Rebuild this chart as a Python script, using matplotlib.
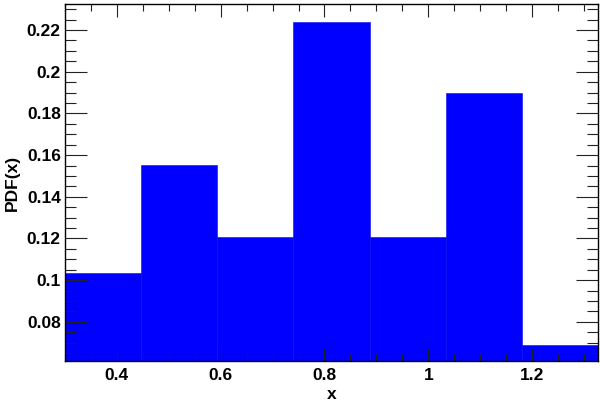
import numpy as np
import matplotlib
matplotlib.use('Agg')
import matplotlib.pyplot as plt
from matplotlib.ticker import MultipleLocator

# histogram: 7 equal bins between 0.3 and 1.327
bin_edges = np.linspace(0.3, 1.327, 8)
pdf_values = [0.1034, 0.1552, 0.1207, 0.2241, 0.1207, 0.1897, 0.0690]

plt.rcParams['font.family'] = ['Liberation Sans', 'DejaVu Sans']
plt.rcParams['font.weight'] = 'bold'

fig = plt.figure(figsize=(6, 4.04), dpi=100)
ax = fig.add_axes([65/600, 1 - 361/404, (598-65)/600, (361-4)/404])

ax.hist(bin_edges[:-1], bins=bin_edges, weights=pdf_values,
        color='#0000ff', edgecolor='#0a0af0', linewidth=0.4)

ax.set_xlim(0.3, 1.327)
ax.set_ylim(0.0612, 0.2325)

ax.xaxis.set_major_locator(MultipleLocator(0.2))
ax.xaxis.set_minor_locator(MultipleLocator(0.05))
ax.yaxis.set_major_locator(MultipleLocator(0.02))
ax.yaxis.set_minor_locator(MultipleLocator(0.005))
ax.xaxis.set_major_formatter(plt.FuncFormatter(lambda v, p: ('%g' % round(v, 3))))
ax.yaxis.set_major_formatter(plt.FuncFormatter(lambda v, p: ('%g' % round(v, 3))))

ax.tick_params(which='both', direction='in', top=True, right=True,
               labelsize=12.5, width=0.8, color='#222222')
ax.tick_params(axis='x', which='major', length=9, pad=5)
ax.tick_params(axis='x', which='minor', length=5)
ax.tick_params(axis='y', which='major', length=16, pad=3)
ax.tick_params(axis='y', which='minor', length=8)
for lab in ax.get_xticklabels() + ax.get_yticklabels():
    lab.set_fontweight('bold')

for s in ax.spines.values():
    s.set_linewidth(1.0)

ax.set_xlabel('x', fontsize=12.5, fontweight='bold', labelpad=3)
ax.set_ylabel('PDF(x)', fontsize=12.5, fontweight='bold', labelpad=5)

fig.savefig('out.png', dpi=100)
